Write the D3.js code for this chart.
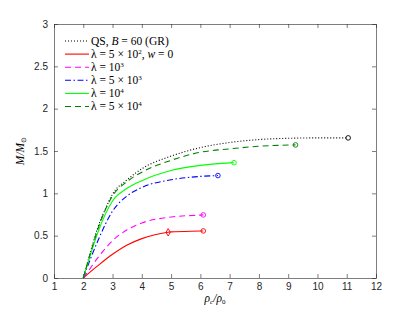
<!DOCTYPE html>
<html>
<head>
<meta charset="utf-8">
<script src="https://cdn.jsdelivr.net/npm/d3@7"></script>
<style>
  html, body { margin: 0; padding: 0; background: #fff; }
  svg { display: block; }
</style>
</head>
<body>
<svg id="chart" width="415" height="312"></svg>
<script>
const X_TICKS = [1, 2, 3, 4, 5, 6, 7, 8, 9, 10, 11, 12];
const Y_TICKS = [0, 0.5, 1, 1.5, 2, 2.5, 3];

// QS, B = 60 (GR)
const qsX = [2, 2.25, 2.5, 2.75, 3, 3.5, 4, 5, 6, 7, 8, 9, 10, 11.05];
const qsY = [0, 0.31, 0.6, 0.81, 0.99, 1.16, 1.29, 1.44, 1.54, 1.6, 1.635, 1.65, 1.655, 1.655];
// lambda = 5e2, w = 0
const l5e2X = [2, 2.25, 2.5, 3, 3.5, 4, 4.9, 5, 6, 6.1];
const l5e2Y = [0, 0.075, 0.146, 0.28, 0.39, 0.465, 0.54, 0.545, 0.555, 0.556];
// lambda = 1e3
const l1e3X = [2, 2.25, 2.5, 3, 3.5, 4, 5, 6, 6.1];
const l1e3Y = [0, 0.12, 0.24, 0.44, 0.57, 0.65, 0.72, 0.743, 0.745];
// lambda = 5e3
const l5e3X = [2, 2.25, 2.5, 3, 3.5, 4, 5, 6, 6.6];
const l5e3Y = [0, 0.23, 0.44, 0.79, 0.97, 1.07, 1.16, 1.2, 1.21];
// lambda = 1e4
const l1e4X = [2, 2.25, 2.5, 3, 3.5, 4, 5, 6, 7, 7.15];
const l1e4Y = [0, 0.28, 0.54, 0.91, 1.06, 1.15, 1.27, 1.33, 1.36, 1.362];
// lambda = 5e4
const l5e4X = [2, 2.25, 2.5, 3, 3.5, 4, 5, 6, 7, 8, 9, 9.25];
const l5e4Y = [0, 0.3, 0.58, 0.97, 1.14, 1.25, 1.39, 1.485, 1.525, 1.556, 1.57, 1.572];

// extra diamond marker on the red curve
const diamondX = [4.9];
const diamondY = [0.54];

const SERIES = [
  { name: 'QS', xs: qsX, ys: qsY, color: '#000000', dash: '1,2', width: 1.1 },
  { name: '5e2', xs: l5e2X, ys: l5e2Y, color: '#ff0000', dash: null, width: 1.1 },
  { name: '1e3', xs: l1e3X, ys: l1e3Y, color: '#ff00ff', dash: '6,4', width: 1.1 },
  { name: '5e3', xs: l5e3X, ys: l5e3Y, color: '#0000ff', dash: '6,2.5,1.5,2.5', width: 1.1 },
  { name: '1e4', xs: l1e4X, ys: l1e4Y, color: '#00ff00', dash: null, width: 1.1 },
  { name: '5e4', xs: l5e4X, ys: l5e4Y, color: '#008000', dash: '6,4', width: 1.1 }
];

const SERIF = '"Liberation Serif", "Times New Roman", serif';
const SANS = '"Liberation Sans", Arial, sans-serif';

const svg = d3.select('#chart');
const plotL = 54, plotR = 376, plotT = 24, plotB = 278;

const x = d3.scaleLinear().domain([1, 12]).range([plotL, plotR]);
const y = d3.scaleLinear().domain([0, 3]).range([plotB, plotT]);

const axisColor = '#262626';

// axes with inward ticks
svg.append('g').attr('transform', `translate(0,${plotB})`)
  .call(d3.axisBottom(x).tickValues(X_TICKS).tickFormat(d3.format('d')).tickSizeInner(-4).tickSizeOuter(0).tickPadding(5));
svg.append('g').attr('transform', `translate(0,${plotT})`)
  .call(d3.axisTop(x).tickValues(X_TICKS).tickFormat('').tickSizeInner(-4).tickSizeOuter(0));
svg.append('g').attr('transform', `translate(${plotL},0)`)
  .call(d3.axisLeft(y).tickValues(Y_TICKS).tickFormat(d => String(d)).tickSizeInner(-4).tickSizeOuter(0).tickPadding(6));
svg.append('g').attr('transform', `translate(${plotR},0)`)
  .call(d3.axisRight(y).tickValues(Y_TICKS).tickFormat('').tickSizeInner(-4).tickSizeOuter(0));
svg.selectAll('.domain, .tick line').attr('stroke', axisColor).attr('stroke-width', 0.6);
svg.selectAll('.tick text')
  .attr('font-family', SANS).attr('font-size', 10).attr('fill', axisColor);

const line = d3.line().x(d => x(d[0])).y(d => y(d[1])).curve(d3.curveMonotoneX);

const plot = svg.append('g');
SERIES.forEach(s => {
  const pts = s.xs.map((v, i) => [v, s.ys[i]]);
  plot.append('path')
    .attr('d', line(pts))
    .attr('fill', 'none')
    .attr('stroke', s.color)
    .attr('stroke-width', s.width)
    .attr('stroke-dasharray', s.dash);
  const last = pts[pts.length - 1];
  plot.append('circle')
    .attr('cx', x(last[0])).attr('cy', y(last[1])).attr('r', 2.3)
    .attr('fill', 'none').attr('stroke', s.color).attr('stroke-width', 0.9);
});

plot.selectAll('.diamond')
  .data(diamondX.map((v, i) => [v, diamondY[i]]))
  .enter()
  .append('path')
  .attr('d', d3.symbol(d3.symbolDiamond, 16)())
  .attr('transform', d => `translate(${x(d[0])},${y(d[1])})`)
  .attr('fill', 'none').attr('stroke', '#ff0000').attr('stroke-width', 0.9);

// legend
const legendRows = [
  { s: SERIES[0], html: 'QS, <tspan font-style="italic">B</tspan> = 60 (GR)' },
  { s: SERIES[1], html: 'λ = 5 × 10<tspan dy="-4" font-size="7">2</tspan><tspan dy="4">, </tspan><tspan font-style="italic">w</tspan> = 0' },
  { s: SERIES[2], html: 'λ = 10<tspan dy="-4" font-size="7">3</tspan>' },
  { s: SERIES[3], html: 'λ = 5 × 10<tspan dy="-4" font-size="7">3</tspan>' },
  { s: SERIES[4], html: 'λ = 10<tspan dy="-4" font-size="7">4</tspan>' },
  { s: SERIES[5], html: 'λ = 5 × 10<tspan dy="-4" font-size="7">4</tspan>' }
];
const legend = svg.append('g');
legendRows.forEach((r, i) => {
  const yy = 41 + i * 13.1;
  legend.append('line')
    .attr('x1', 65).attr('x2', 89).attr('y1', yy).attr('y2', yy)
    .attr('stroke', r.s.color).attr('stroke-width', r.s.width)
    .attr('stroke-dasharray', r.s.dash);
  legend.append('text')
    .attr('x', 91).attr('y', yy + 3.8)
    .attr('font-family', SERIF).attr('font-weight', 'normal')
    .attr('font-size', 11.5).attr('fill', '#000')
    .html(r.html);
});

// axis labels
svg.append('text')
  .attr('x', 215).attr('y', 302).attr('text-anchor', 'middle')
  .attr('font-family', SERIF).attr('font-size', 11.5).attr('fill', '#000')
  .html('<tspan font-style="italic">ρ</tspan><tspan font-size="7" dy="2" font-style="italic">c</tspan><tspan dy="-2" font-style="italic">/ρ</tspan><tspan font-size="7" dy="2">0</tspan>');

svg.append('text')
  .attr('transform', 'translate(24,151) rotate(-90)')
  .attr('text-anchor', 'middle')
  .attr('font-family', SERIF).attr('font-size', 11.5).attr('fill', '#000')
  .html('<tspan font-style="italic">M/M</tspan><tspan font-size="7" dy="2">⊙</tspan>');
</script>
</body>
</html>
